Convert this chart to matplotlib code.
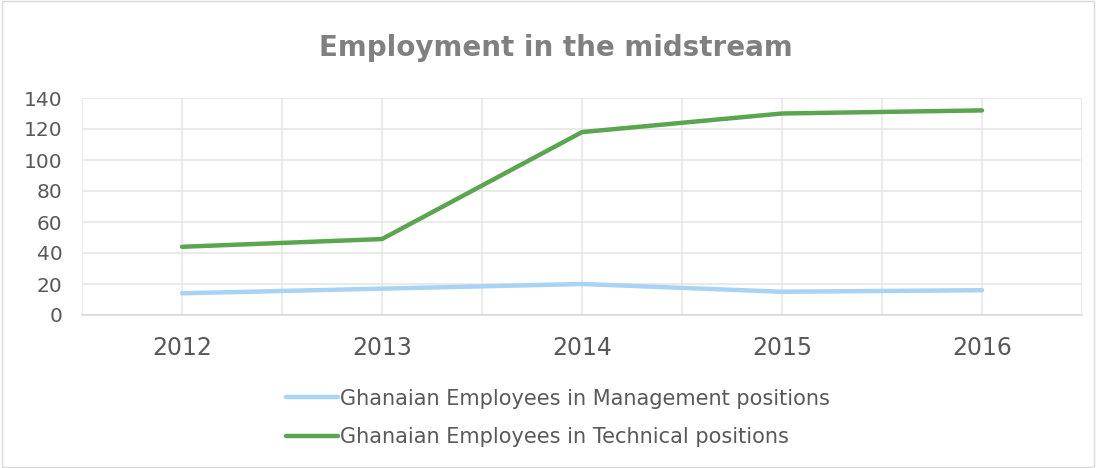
import numpy as np
import matplotlib.pyplot as plt
from matplotlib.patches import Rectangle

# Data
years = ["2012", "2013", "2014", "2015", "2016"]
management = [14, 17, 20, 15, 16]
technical = [44, 49, 118, 130, 132]

grey_text = "#595959"
grid_col = "#e6e6e6"

fig = plt.figure(figsize=(10.96, 4.68), dpi=100)
ax = fig.add_axes([82 / 1096, 1 - 315 / 468, 1000 / 1096, 217 / 468])

x = np.arange(len(years))
ax.plot(x, management, color="#a9d3f5", lw=3.2, solid_capstyle="round",
        label="Ghanaian Employees in Management positions", zorder=3)
ax.plot(x, technical, color="#5ba550", lw=3.2, solid_capstyle="round",
        label="Ghanaian Employees in Technical positions", zorder=3)

ax.set_xlim(-0.5, len(years) - 0.5)
ax.set_ylim(0, 140)
ax.set_yticks(range(0, 141, 20))
ax.set_xticks(x)
ax.set_xticklabels(years)
ax.set_xticks(np.arange(-0.5, len(years), 1.0), minor=True)

ax.grid(True, which="both", color=grid_col, lw=1.2, zorder=0)
ax.tick_params(axis="both", which="both", length=0, labelcolor=grey_text)
ax.tick_params(axis="x", pad=15, labelsize=17)
ax.tick_params(axis="y", pad=14, labelsize=14.5)
for s in ["left", "top", "right"]:
    ax.spines[s].set_visible(False)
ax.spines["bottom"].set_color("#d9d9d9")
ax.spines["bottom"].set_linewidth(1.2)

fig.text(0.507, 1 - 48 / 468, "Employment in the midstream", ha="center",
         va="center", fontsize=20, fontweight="bold", color="#808080")

leg = fig.legend(loc="center", bbox_to_anchor=(0.509, 1 - 418 / 468), ncol=1,
                 frameon=False, fontsize=15, handlelength=2.5,
                 handletextpad=0.1, labelspacing=0.9)
for t in leg.get_texts():
    t.set_color(grey_text)

fig.patches.append(Rectangle((0.002, 0.002), 0.996, 0.996, transform=fig.transFigure,
                             fill=False, edgecolor="#d9d9d9", lw=1))

fig.savefig("out.png", dpi=100)
